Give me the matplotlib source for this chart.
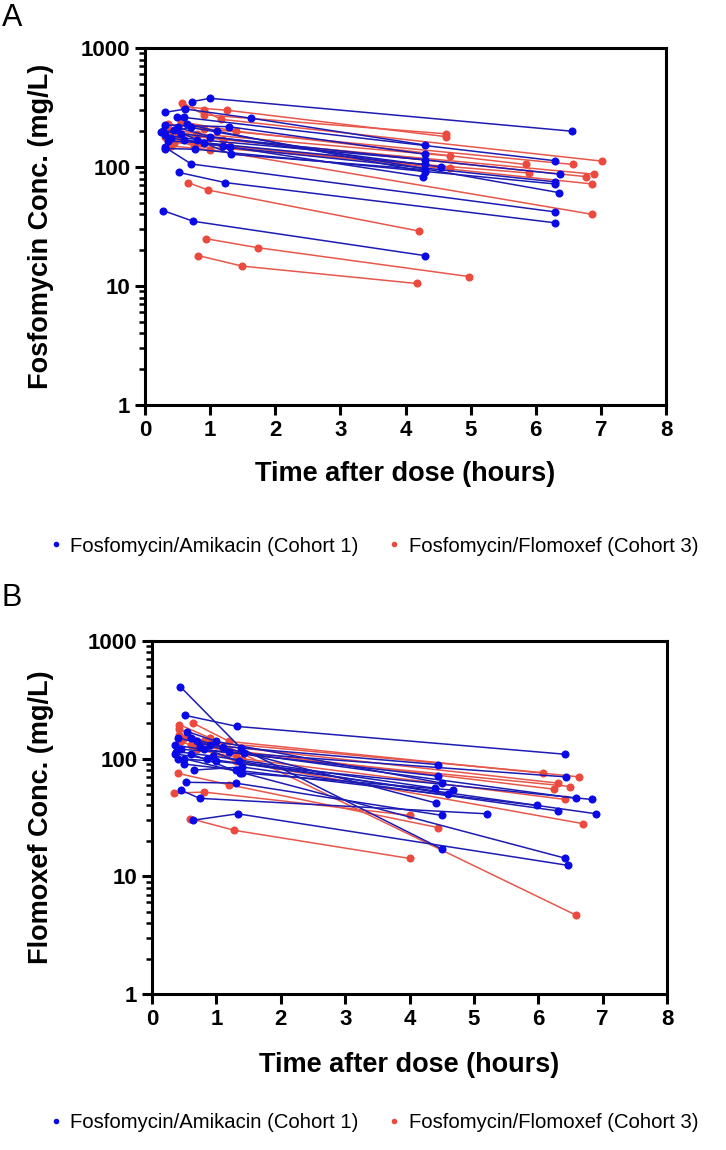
import matplotlib.pyplot as plt
from matplotlib.lines import Line2D
from matplotlib.ticker import FixedLocator, LogLocator, NullFormatter, FuncFormatter

plt.rcParams['font.family'] = ['Liberation Sans', 'DejaVu Sans']

BLUE = '#0a0ae6'
BLUE_LINE = '#1c1cb4'
RED = '#ec4a3e'
RED_LINE = '#e8574b'

# ---- Panel A: fosfomycin concentrations ----
# cohort 1 (fosfomycin/amikacin), one list per patient
a_c1_time = [
    [0.72, 1.00, 6.55], [0.31, 0.62, 1.63, 4.30], [0.49, 0.60, 6.29],
    [0.31, 1.29, 4.30], [0.27, 0.55, 6.37], [0.30, 0.80, 4.30],
    [0.40, 1.30, 6.30], [0.35, 0.90, 4.30], [0.31, 0.71, 6.29],
    [0.52, 1.23, 6.29], [0.28, 0.74, 4.30], [0.31, 0.77, 6.30],
    [0.45, 1.32, 4.30], [0.60, 1.20, 4.27], [0.50, 1.00, 4.55],
    [0.25, 0.70, 6.35], [0.65, 1.10, 4.30],
]
a_c1_conc = [
    [354, 378, 200], [288, 307, 257, 153], [261, 261, 113],
    [225, 218, 128], [200, 190, 87], [185, 170, 115],
    [175, 146, 75], [165, 160, 105], [146, 106, 42],
    [90, 74, 34], [43, 35, 18], [143, 141, 72],
    [205, 128, 95], [170, 150, 83], [215, 180, 100],
    [195, 215, 61], [230, 200, 91],
]
# cohort 3 (fosfomycin/flomoxef)
a_c3_time = [
    [0.57, 0.91, 4.62], [0.60, 1.26, 4.62], [0.90, 1.16, 7.02],
    [0.35, 0.90, 6.57], [0.30, 0.80, 4.68], [0.40, 1.20, 6.90],
    [0.50, 1.00, 6.77], [0.35, 0.85, 4.69], [0.45, 1.30, 6.87],
    [0.30, 0.75, 5.90], [0.55, 1.40, 5.85], [0.66, 0.97, 4.20],
    [0.93, 1.73, 4.98], [0.82, 1.49, 4.17], [0.40, 1.00, 6.87],
]
a_c3_conc = [
    [347, 275, 190], [320, 300, 180], [300, 252, 112],
    [230, 210, 105], [215, 190, 124], [200, 170, 87],
    [185, 175, 83], [170, 160, 99], [160, 150, 72],
    [180, 150, 89], [240, 200, 105], [74, 64, 29],
    [25, 21, 12], [18, 14.7, 10.5], [150, 140, 40],
]

# ---- Panel B: flomoxef concentrations ----
b_c1_time = [
    [0.44, 1.38, 4.51], [0.52, 1.32, 6.42], [0.64, 1.33, 6.46],
    [0.50, 1.40, 6.41], [0.45, 0.74, 5.20], [0.53, 1.30, 4.50],
    [0.40, 0.90, 4.45], [0.35, 0.80, 4.45], [0.45, 1.43, 6.43],
    [0.55, 1.00, 4.50], [0.60, 1.37, 4.68], [0.38, 0.95, 4.40],
    [0.70, 1.20, 6.59], [0.40, 1.00, 6.83], [0.50, 1.30, 5.98],
    [0.65, 1.40, 6.30], [0.35, 0.85, 6.90], [0.60, 1.10, 4.41],
    [0.75, 1.35, 4.60],
]
b_c1_conc = [
    [409, 123, 17], [233, 188, 109], [30, 34, 12.4],
    [100, 76, 14.3], [54, 46, 34], [63, 62, 33],
    [150, 130, 89], [130, 120, 71], [120, 111, 70],
    [170, 140, 62], [110, 76, 54], [115, 105, 56],
    [140, 115, 46], [100, 95, 45], [90, 80, 40],
    [80, 85, 36], [110, 100, 34], [150, 125, 42],
    [125, 95, 50],
]
b_c3_time = [
    [0.42, 0.90, 6.58], [0.64, 1.20, 6.64], [0.42, 0.80, 6.08],
    [0.42, 1.00, 6.30], [0.50, 1.30, 6.50], [0.60, 1.10, 6.25],
    [0.70, 1.40, 6.42], [0.34, 0.81, 4.00], [0.59, 1.28, 4.00],
    [0.40, 1.20, 4.44], [0.45, 1.30, 6.70],
]
b_c3_conc = [
    [195, 150, 4.7], [200, 140, 70], [180, 140, 76],
    [160, 130, 62], [150, 110, 58], [130, 120, 55],
    [120, 100, 45], [51, 52, 33], [31, 24.6, 14.2],
    [75, 60, 26], [140, 95, 28],
]

xticks = [0, 1, 2, 3, 4, 5, 6, 7, 8]
yticks = [1, 10, 100, 1000]
legend_labels = ['Fosfomycin/Amikacin (Cohort 1)', 'Fosfomycin/Flomoxef (Cohort 3)']

W, H = 726, 1150
fig = plt.figure(figsize=(W / 100, H / 100), dpi=100)


def px_axes(left, top, right, bottom):
    return fig.add_axes([left / W, 1 - bottom / H, (right - left) / W, (bottom - top) / H])


def draw_panel(ax, box, c1_t, c1_c, c3_t, c3_c, ylabel, xlabel_top):
    left, top, right, bottom = box
    for t, c in zip(c3_t, c3_c):
        ax.plot(t, c, '-', color=RED_LINE, lw=1.1, zorder=2)
        ax.plot(t, c, 'o', color=RED, ms=5.8, mec='none', zorder=3)
    for t, c in zip(c1_t, c1_c):
        ax.plot(t, c, '-', color=BLUE_LINE, lw=1.1, zorder=4)
        ax.plot(t, c, 'o', color=BLUE, ms=5.8, mec='none', zorder=5)
    ax.set_yscale('log')
    ax.set_xlim(0, 8)
    ax.set_ylim(1, 1000)
    ax.xaxis.set_major_locator(FixedLocator(xticks))
    ax.yaxis.set_major_locator(FixedLocator(yticks))
    ax.yaxis.set_major_formatter(FuncFormatter(lambda v, p: '%d' % v))
    ax.yaxis.set_minor_locator(LogLocator(base=10, subs=range(2, 10)))
    ax.yaxis.set_minor_formatter(NullFormatter())
    for s in ax.spines.values():
        s.set_linewidth(2.2)
    ax.tick_params(which='major', width=2.2, length=7, labelsize=16)
    ax.tick_params(which='minor', width=1.8, length=4)
    for lab in ax.get_xticklabels() + ax.get_yticklabels():
        lab.set_fontweight('bold')
    ax.set_xlabel('Time after dose (hours)', fontsize=19.5, fontweight='bold')
    ax.set_ylabel(ylabel, fontsize=19.5, fontweight='bold')
    ax.xaxis.set_label_coords(0.5, -(xlabel_top - bottom) / (bottom - top))
    ax.yaxis.set_label_coords((54 - left) / (right - left), 0.5)


boxA = (145, 48, 666, 405)
axA = px_axes(*boxA)
draw_panel(axA, boxA, a_c1_time, a_c1_conc, a_c3_time, a_c3_conc,
           'Fosfomycin Conc. (mg/L)', 461)
boxB = (152, 641, 667, 994)
axB = px_axes(*boxB)
draw_panel(axB, boxB, b_c1_time, b_c1_conc, b_c3_time, b_c3_conc,
           'Flomoxef Conc. (mg/L)', 1052)

fig.text(2 / W, 1 - 18 / H, 'A', fontsize=22, va='center', ha='left')
fig.text(2 / W, 1 - 598 / H, 'B', fontsize=22, va='center', ha='left')

handles = [Line2D([], [], marker='o', ls='none', color=BLUE, ms=3),
           Line2D([], [], marker='o', ls='none', color=RED, ms=3)]
for yc in (546, 1123):
    fig.legend(handles, legend_labels, loc='center', bbox_to_anchor=(0.516, 1 - yc / H),
               ncol=2, frameon=False, fontsize=14.6, handlelength=0.5,
               handletextpad=0.45, columnspacing=1.5)

fig.savefig('out.png', dpi=100)
